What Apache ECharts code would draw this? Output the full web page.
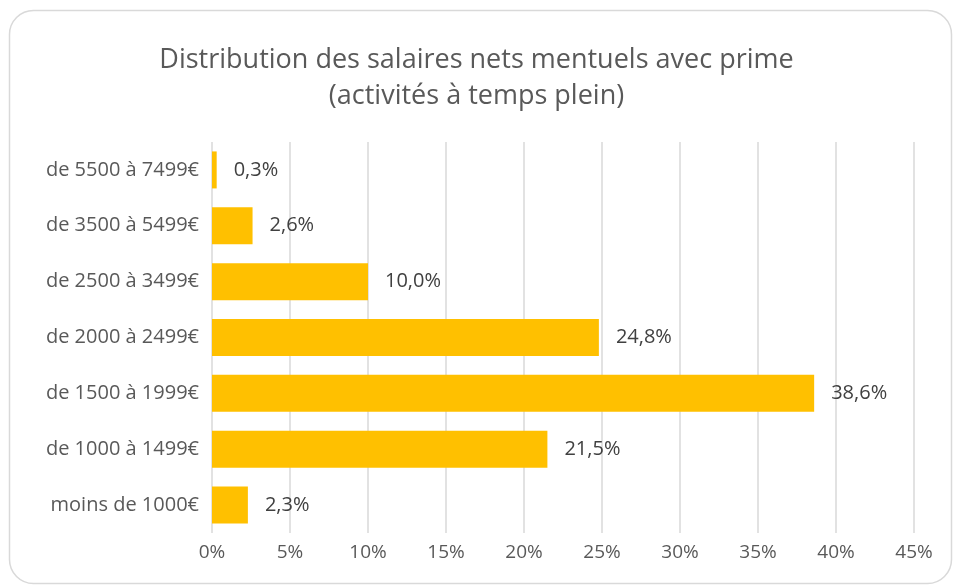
<!DOCTYPE html>
<html lang="fr">
<head>
    <meta charset="UTF-8">
    <title>Distribution des salaires</title>
    <script src="https://cdn.jsdelivr.net/npm/echarts@6/dist/echarts.min.js"></script>
    <style>
        body { margin: 0; background: #fff; }
    </style>
</head>
<body>
<div id="main" style="width: 953px;height:585px;"></div>

<script type="text/javascript">
    // données (de bas en haut)
    var categories = ['moins de 1000€', 'de 1000 à 1499€', 'de 1500 à 1999€', 'de 2000 à 2499€',
        'de 2500 à 3499€', 'de 3500 à 5499€', 'de 5500 à 7499€'];
    var values = [2.3, 21.5, 38.6, 24.8, 10.0, 2.6, 0.3];
    var xTicks = [0, 5, 10, 15, 20, 25, 30, 35, 40, 45];

    var font = 'Open Sans';
    var myChart = echarts.init(document.getElementById('main'));

    var option = {
        animation: false,
        title: {
            text: 'Distribution des salaires nets mentuels avec prime\n(activités à temps plein)',
            left: 'center',
            top: 42,
            padding: [0, 0, 0, 9],
            textStyle: {
                fontFamily: font,
                fontSize: 27,
                fontWeight: 'normal',
                color: '#595959',
                lineHeight: 36
            }
        },
        graphic: [{
            type: 'rect',
            shape: { x: 9.5, y: 10.5, width: 942, height: 573, r: 24 },
            style: { fill: 'none', stroke: '#d9d9d9', lineWidth: 1.5 },
            silent: true
        }],
        grid: {
            left: 212,
            right: 39,
            top: 142,
            bottom: 52
        },
        xAxis: {
            type: 'value',
            min: xTicks[0],
            max: xTicks[xTicks.length - 1],
            interval: 5,
            axisLine: { show: false },
            axisTick: { show: false },
            splitLine: { lineStyle: { color: '#d9d9d9', width: 1.5 } },
            axisLabel: {
                margin: 10,
                fontFamily: font,
                fontSize: 19,
                color: '#595959',
                formatter: '{value}%'
            }
        },
        yAxis: {
            type: 'category',
            data: categories,
            axisLine: { show: false },
            axisTick: { show: false },
            axisLabel: {
                margin: 13,
                fontFamily: font,
                fontSize: 20,
                color: '#595959'
            }
        },
        series: [{
            type: 'bar',
            data: values,
            barWidth: 37,
            itemStyle: { color: '#FFC000' },
            label: {
                show: true,
                position: 'right',
                distance: 17,
                fontFamily: font,
                fontSize: 20,
                color: '#404040',
                formatter: function (p) {
                    return p.value.toFixed(1).replace('.', ',') + '%';
                }
            }
        }]
    };

    myChart.setOption(option);
</script>
</body>
</html>
